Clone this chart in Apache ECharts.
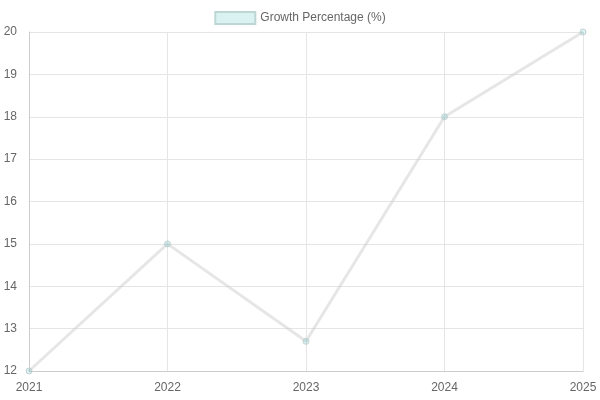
<!DOCTYPE html>
<html><head><meta charset="utf-8">
<script src="https://cdn.jsdelivr.net/npm/echarts@6/dist/echarts.min.js"></script>
<style>html,body{margin:0;padding:0;background:#fff}#c{width:600px;height:400px}</style>
</head><body><div id="c"></div>
<script>
const categories = ['2021','2022','2023','2024','2025'];
const growthValues = [12, 15, 12.7, 18, 20];
const seriesName = 'Growth Percentage (%)';

const chart = echarts.init(document.getElementById('c'));
chart.setOption({
  animation: false,
  textStyle: { fontFamily: 'Liberation Sans, Arial, sans-serif' },
  legend: {
    top: 6, left: 'center',
    itemWidth: 40, itemHeight: 12, itemGap: 10,
    textStyle: { color: '#666', fontSize: 12 },
    data: [{ name: seriesName, icon: 'rect', itemStyle: { color: 'rgba(75,192,192,0.2)', borderColor: 'rgba(190,215,212,1)', borderWidth: 2 } }]
  },
  grid: { left: 29, right: 17, top: 32, bottom: 29 },
  xAxis: {
    type: 'category', data: categories, boundaryGap: false,
    axisLine: { lineStyle: { color: '#ccc' } },
    axisTick: { show: true, length: 0 },
    axisLabel: { color: '#666', fontSize: 12, margin: 11 },
    splitLine: { show: true, lineStyle: { color: '#e5e5e5' } }
  },
  yAxis: {
    type: 'value', min: 12, max: 20, interval: 1,
    axisLine: { show: true, lineStyle: { color: '#ccc' } },
    axisTick: { show: false },
    axisLabel: { color: '#666', fontSize: 12, margin: 12 },
    splitLine: { lineStyle: { color: '#e5e5e5' } }
  },
  series: [{
    name: seriesName, type: 'line', data: growthValues,
    symbol: 'circle', symbolSize: 6,
    lineStyle: { color: 'rgba(200,200,200,0.45)', width: 3 },
    itemStyle: { color: 'rgba(75,192,192,0.2)', borderColor: 'rgba(190,205,205,0.9)', borderWidth: 1 }
  }]
});
</script></body></html>
